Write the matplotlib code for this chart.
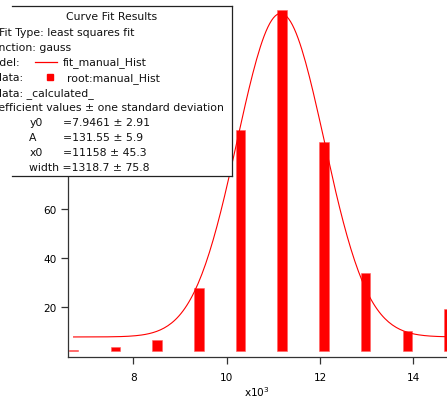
import numpy as np
import matplotlib
matplotlib.use("Agg")
import matplotlib.pyplot as plt
from matplotlib.patches import Rectangle
from matplotlib.lines import Line2D

# Histogram bins (centres) and bar tops
bin_centers = [6720, 7615, 8510, 9405, 10300, 11185, 12085, 12975, 13870, 14765]
bar_tops = [2.7, 3.9, 6.8, 27.8, 91.9, 141.0, 87.2, 33.8, 10.2, 19.2]
bar_base = 2.3

# Gaussian fit coefficients: y0 + A*exp(-((x-x0)/width)^2)
y0, A, x0, width = 7.9461, 131.55, 11158.0, 1318.7
coef_names = ["y0", "A", "x0"]
coef_text = ["=7.9461 ± 2.91", "=131.55 ± 5.9", "=11158 ± 45.3"]
width_text = "width =1318.7 ± 75.8"

W, H = 447, 402
FS = 7.6
BFS = 7.8
RED = "#ff0000"

plt.rcParams["font.family"] = ["DejaVu Sans"]
fig = plt.figure(figsize=(W / 100, H / 100), dpi=100)
renderer = fig.canvas.get_renderer()


def fx(px):
    return px / W


def fy(py):
    return 1 - py / H


ax_left, ax_right, ax_top, ax_bottom = 67.7, 447.0, 10.7, 357.5
ax = fig.add_axes([fx(ax_left), fy(ax_bottom), (ax_right - ax_left) / W,
                   (ax_bottom - ax_top) / H])

heights = [t - bar_base for t in bar_tops]
ax.bar(bin_centers, heights, bottom=bar_base, width=200, color=RED,
       edgecolor="#ff6060", linewidth=0.4, zorder=2)

xfit = np.linspace(bin_centers[0], bin_centers[-1], 200)
yfit = y0 + A * np.exp(-((xfit - x0) / width) ** 2)
ax.plot(xfit, yfit, color=RED, lw=0.8, zorder=3)

ax.set_xlim(6594, 14722)
ax.set_ylim(0, 141)
ax.set_xticks([8000, 10000, 12000, 14000])
ax.set_xticklabels(["8", "10", "12", "14"])
ax.set_yticks([20, 40, 60, 80, 100, 120, 140])
for s in ("top", "right"):
    ax.spines[s].set_visible(False)
for s in ("left", "bottom"):
    ax.spines[s].set_linewidth(0.9)
    ax.spines[s].set_color("#333333")
ax.tick_params(axis="both", direction="out", length=5, width=0.9,
               color="#333333", labelsize=FS)
ax.tick_params(axis="x", pad=6)
ax.tick_params(axis="y", pad=3)
ax.set_xlabel("x10$^3$", fontsize=FS, labelpad=2)

# Curve fit results box
box_l, box_r, box_t, box_b = -5, 231.7, 7.3, 176.7
fig.patches.append(Rectangle((fx(box_l), fy(box_b)), (box_r - box_l) / W,
                             (box_b - box_t) / H, transform=fig.transFigure,
                             facecolor="white", edgecolor="none", zorder=5))
lk = dict(transform=fig.transFigure, color="#222222", lw=0.9, zorder=6)
fig.lines.append(Line2D([fx(12), fx(box_r)], [fy(box_t), fy(box_t)], **lk))
fig.lines.append(Line2D([fx(12), fx(box_r)], [fy(box_b), fy(box_b)], **lk))
fig.lines.append(Line2D([fx(box_r), fx(box_r)], [fy(box_t), fy(box_b)], **lk))


def text_width(s):
    t = fig.text(0, 0, s, fontsize=BFS)
    w = t.get_window_extent(renderer).width
    t.remove()
    return w


def txt(x, y, s, ha="left"):
    fig.text(fx(x), fy(y), s, ha=ha, va="center", fontsize=BFS,
             color="#111111", zorder=7)


def txt_from(x, y, s, cut):
    """Place s so that the part after its first `cut` characters starts at x."""
    offset = text_width(s) - text_width(s[cut:])
    txt(x - offset, y, s)


txt(111.7, 17.3, "Curve Fit Results", ha="center")
txt_from(15.0, 33.3, "Fit Type: least squares fit", 4)
txt_from(-1.0, 48.3, "Function: gauss", 2)
txt_from(0.0, 62.7, "Model:", 2)
fig.lines.append(Line2D([fx(35), fx(57)], [fy(63), fy(63)], transform=fig.transFigure,
                        color=RED, lw=0.9, zorder=7))
txt(63.3, 62.7, "fit_manual_Hist")
txt_from(-4.5, 78.3, "Y data:", 2)
fig.lines.append(Line2D([fx(50)], [fy(77.5)], transform=fig.transFigure,
                        color=RED, marker="s", markersize=5, lw=0, zorder=7))
txt(66.7, 78.3, "root:manual_Hist")
txt_from(-4.5, 93.3, "X data: _calculated_", 2)
txt_from(-2.0, 108.3, "Coefficient values ± one standard deviation", 2)
for i, (n, v) in enumerate(zip(coef_names, coef_text)):
    yy = 123.3 + 15 * i
    txt(29.3, yy, n)
    txt(63.3, yy, v)
txt(29.3, 167.7, width_text)

fig.savefig("out.png", dpi=100)
